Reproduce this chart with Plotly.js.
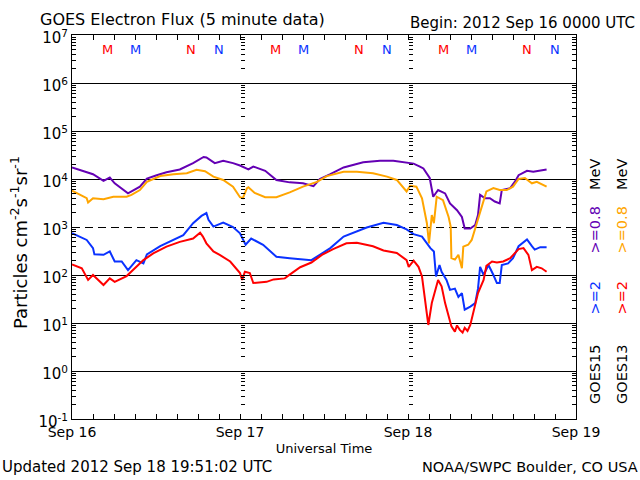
<!DOCTYPE html>
<html><head><meta charset="utf-8">
<script src="https://cdn.plot.ly/plotly-3.0.1.min.js"></script>
<style>html,body{margin:0;padding:0;background:#fff}#chart{width:640px;height:480px}</style>
</head><body><div id="chart"></div>
<script>
// hours after 2012 Sep 16 00:00 UTC
const hoursG15e08 = [0,3.0,4.5,5.4,6.1,8.0,9.7,10.7,12.1,13.5,15.4,17.3,18.8,19.2,20.4,21.6,23.0,24.0,25.2,25.9,27.6,29.2,31.1,33.0,34.5,35.4,36.9,38.8,41.6,44.0,45.9,46.9,47.8,48.8,49.7,50.2,51.1,51.6,52.3,53.3,54.0,55.0,55.7,56.1,56.9,57.6,58.0,58.3,59.0,59.7,60.4,61.1,61.4,62.6,63.3,63.8,65.0,65.9,67.8];
const fluxG15e08 = [17400,12600,9120,10700,8130,5010,6920,10200,12000,13800,15800,21400,28800,28200,21400,24000,21400,19100,15800,18200,14800,9550,8510,8130,7080,10000,12600,17400,22400,24000,24000,22900,21400,20900,18200,16600,10500,4270,5890,5010,3090,2240,1620,933,933,1100,1780,4680,3980,3980,3390,3090,5890,6460,8910,12000,14800,14100,15800];

const hoursG13e08 = [0,2.1,2.3,3.0,4.5,5.9,7.8,8.5,9.7,10.7,12.6,14.5,16.4,17.8,19.0,20.2,21.6,23.0,24.0,24.4,25.0,25.2,26.1,27.6,29.2,31.1,33.0,35.0,36.4,38.8,40.7,43.0,45.0,46.4,47.8,48.3,49.2,50.0,50.7,51.0,51.4,51.7,52.1,53.0,53.8,54.1,54.2,54.7,55.2,55.7,55.9,56.6,57.1,57.6,58.5,59.2,60.2,61.1,62.1,63.0,63.8,64.7,65.7,66.4,67.8];
const fluxG13e08 = [5750,3980,3240,3980,3800,4270,4270,4680,5890,8710,11500,12600,13200,15500,14500,11200,9550,6920,4170,3980,6460,6760,5130,4170,4170,5250,6920,8710,11500,14100,14100,13200,11200,9550,5500,7240,6920,3980,1200,457,1780,1200,4270,3630,1620,1020,224,209,263,138,389,427,537,933,2630,5500,6460,5890,5890,6920,10000,10500,8130,8710,6920];

const hoursG15e2 = [0,2.1,3.0,3.2,4.5,5.4,6.1,7.1,8.0,9.2,10.2,10.7,12.6,14.5,15.9,17.3,18.5,19.2,19.5,20.2,21.6,23.0,24.0,24.8,25.6,27.3,29.2,31.1,32.6,34.2,35.4,36.9,38.8,40.7,42.1,44.5,46.4,47.8,48.8,50.0,51.2,51.7,51.9,52.0,52.5,52.8,53.5,54.0,54.7,55.2,55.7,56.1,56.9,57.6,58.0,58.3,58.8,59.5,60.2,60.7,61.1,61.4,62.3,63.0,63.8,65.0,65.7,66.1,66.9,67.8];
const fluxG15e2 = [741,537,363,269,263,309,191,191,126,204,174,269,398,537,676,1200,1700,1950,1410,1020,1230,1000,741,427,575,427,240,224,214,204,263,363,631,794,977,1230,1100,891,708,631,363,309,110,93,162,117,79,49,52,35,42,19,22,26,52,148,100,162,100,68,68,162,174,224,398,550,398,339,380,380];

const hoursG13e2 = [0,1.4,2.3,3.0,4.5,5.4,6.1,7.8,9.2,10.2,11.6,13.5,15.4,17.3,18.3,18.7,19.2,20.2,21.1,22.6,24.0,24.3,24.7,25.4,25.9,27.8,28.8,30.4,31.1,32.6,34.2,35.7,37.3,39.2,40.7,43.0,44.5,46.4,47.8,48.1,48.8,49.5,50.0,50.4,50.9,51.4,51.9,52.3,52.8,53.3,53.8,54.2,54.7,55.0,55.4,55.8,56.1,56.5,56.9,57.3,58.0,58.8,59.2,60.0,60.7,61.6,62.6,63.8,64.5,65.2,65.7,66.4,67.1,67.8];
const fluxG13e2 = [166,138,79,100,62,85,72,95,148,204,282,389,490,575,759,631,457,309,263,191,110,79,117,110,68,72,81,85,102,145,182,263,347,457,468,398,324,288,204,148,200,148,93,35,9.1,26,49,79,58,26,14,8.5,6.6,8.9,7.2,6.3,7.9,6.8,9.1,16,42,79,155,191,182,191,224,347,363,263,126,148,138,117];

const dayTicks = [0,24,48,72];
const dayLabels = ['Sep 16','Sep 17','Sep 18','Sep 19'];
const decadeVals = [1e-1,1e0,1e1,1e2,1e3,1e4,1e5,1e6,1e7];
const decadeLabels = ['10<sup>-1</sup>','10<sup>0</sup>','10<sup>1</sup>','10<sup>2</sup>','10<sup>3</sup>','10<sup>4</sup>','10<sup>5</sup>','10<sup>6</sup>','10<sup>7</sup>'];
const solidGridVals = [1e0,1e1,1e2,1e4,1e5,1e6];
const dashedGridVals = [1e3];
// local midnight (M) / noon (N) markers
const mnHours = [5,9,17,21,29,33,41,45,53,57,65,69];
const mnText  = ['M','M','N','N','M','M','N','N','M','M','N','N'];
const mnSat   = ['G13','G15','G13','G15','G13','G15','G13','G15','G13','G15','G13','G15'];

const C = {g15e08:'#6400b4', g13e08:'#ffa500', g15e2:'#0a32ff', g13e2:'#ff0000'};
const satColor = {G13:C.g13e2, G15:C.g15e2};
const FONT = 'DejaVu Sans, sans-serif';

function line(x,y,c){return {type:'scatter',mode:'lines',x:x,y:y,line:{color:c,width:2},showlegend:false,hoverinfo:'skip'};}
function empty(ax){return {type:'scatter',x:[],y:[],yaxis:ax,showlegend:false,hoverinfo:'skip'};}
const traces = [
  line(hoursG15e08,fluxG15e08,C.g15e08),
  line(hoursG13e08,fluxG13e08,C.g13e08),
  line(hoursG15e2,fluxG15e2,C.g15e2),
  line(hoursG13e2,fluxG13e2,C.g13e2),
  empty('y2'),empty('y3'),empty('y4'),empty('y5')
];

const minorY = {ticks:'inside',ticklen:4,tickcolor:'black',dtick:'D1',tickwidth:1};
function dayAxis(pos){return {overlaying:'y',anchor:'free',position:pos,type:'log',range:[-1,7],
  showline:false,showticklabels:false,ticks:'inside',ticklen:6,tickcolor:'black',
  tickvals:decadeVals,minor:minorY,showgrid:false,zeroline:false};}
function gridAxis(vals,dash){return {overlaying:'y',anchor:'x',type:'log',range:[-1,7],tickvals:vals,
  showgrid:true,gridcolor:'black',gridwidth:1,griddash:dash,showticklabels:false,ticks:'',showline:false,zeroline:false};}

const annotations = mnHours.map((h,i)=>({xref:'x',x:h,yref:'paper',y:0.961,text:mnText[i],showarrow:false,
  font:{family:FONT,size:13,color:satColor[mnSat[i]]},xanchor:'center',yanchor:'middle'}));
function side(x,y,text,color){annotations.push({xref:'paper',yref:'paper',x:x,y:y,text:text,textangle:-90,showarrow:false,
  font:{family:FONT,size:14.5,color:color},xanchor:'center',yanchor:'middle'});}
const c1=(595-72)/504, c2=(622-72)/504;
side(c1,0.1146,'GOES15','black'); side(c1,0.3164,'&gt;=2',C.g15e2); side(c1,0.4909,'&gt;=0.8',C.g15e08); side(c1,0.6354,'MeV','black');
side(c2,0.1146,'GOES13','black'); side(c2,0.3164,'&gt;=2',C.g13e2); side(c2,0.4909,'&gt;=0.8',C.g13e08); side(c2,0.6354,'MeV','black');
annotations.push({xref:'paper',yref:'paper',x:(637-72)/504,y:(419-23)/384,text:'Begin: 2012 Sep 16 0000 UTC',showarrow:false,
  xanchor:'right',yanchor:'middle',font:{family:FONT,size:15,color:'black'}});
annotations.push({xref:'paper',yref:'paper',x:(0-72)/504,y:(419-467)/384,text:'Updated 2012 Sep 18 19:51:02 UTC',showarrow:false,
  xanchor:'left',yanchor:'middle',font:{family:FONT,size:15,color:'black'}});
annotations.push({xref:'paper',yref:'paper',x:(640-72)/504,y:(419-467)/384,text:'NOAA/SWPC Boulder, CO USA',showarrow:false,
  xanchor:'right',yanchor:'middle',font:{family:FONT,size:14.5,color:'black'}});
annotations.push({xref:'paper',yref:'paper',x:(19-72)/504,y:(419-243)/384,text:'Particles cm<sup>-2</sup>s<sup>-1</sup>sr<sup>-1</sup>',
  textangle:-90,showarrow:false,xanchor:'center',yanchor:'middle',font:{family:FONT,size:18,color:'black'}});

const layout = {
  width:640,height:480,paper_bgcolor:'white',plot_bgcolor:'white',
  margin:{l:72,r:64,t:35,b:61},
  font:{family:FONT,color:'black'},
  title:{text:'GOES Electron Flux (5 minute data)',xref:'container',yref:'container',x:40/640,xanchor:'left',y:1-19/480,yanchor:'middle',
    font:{family:FONT,size:16,color:'black'}},
  xaxis:{range:[0,72],tickvals:dayTicks,ticktext:dayLabels,ticks:'inside',ticklen:5,tickcolor:'black',
    showline:true,linecolor:'black',linewidth:1,mirror:'ticks',showgrid:false,zeroline:false,
    minor:{dtick:3,ticks:'inside',ticklen:5,tickcolor:'black'},
    tickfont:{family:FONT,size:14},title:{text:'Universal Time',standoff:5,font:{family:FONT,size:13}}},
  yaxis:{type:'log',range:[-1,7],tickvals:decadeVals,ticktext:decadeLabels,ticks:'inside',ticklen:8,tickcolor:'black',
    showline:true,linecolor:'black',linewidth:1,mirror:'ticks',showgrid:false,zeroline:false,minor:minorY,
    tickfont:{family:FONT,size:15},ticklabelshift:3},
  yaxis2:dayAxis(1/3),
  yaxis3:dayAxis(2/3),
  yaxis4:gridAxis(solidGridVals,'solid'),
  yaxis5:gridAxis(dashedGridVals,'8px,5px'),
  annotations:annotations
};
Plotly.newPlot('chart',traces,layout,{staticPlot:true,displayModeBar:false});
</script>
</body></html>
